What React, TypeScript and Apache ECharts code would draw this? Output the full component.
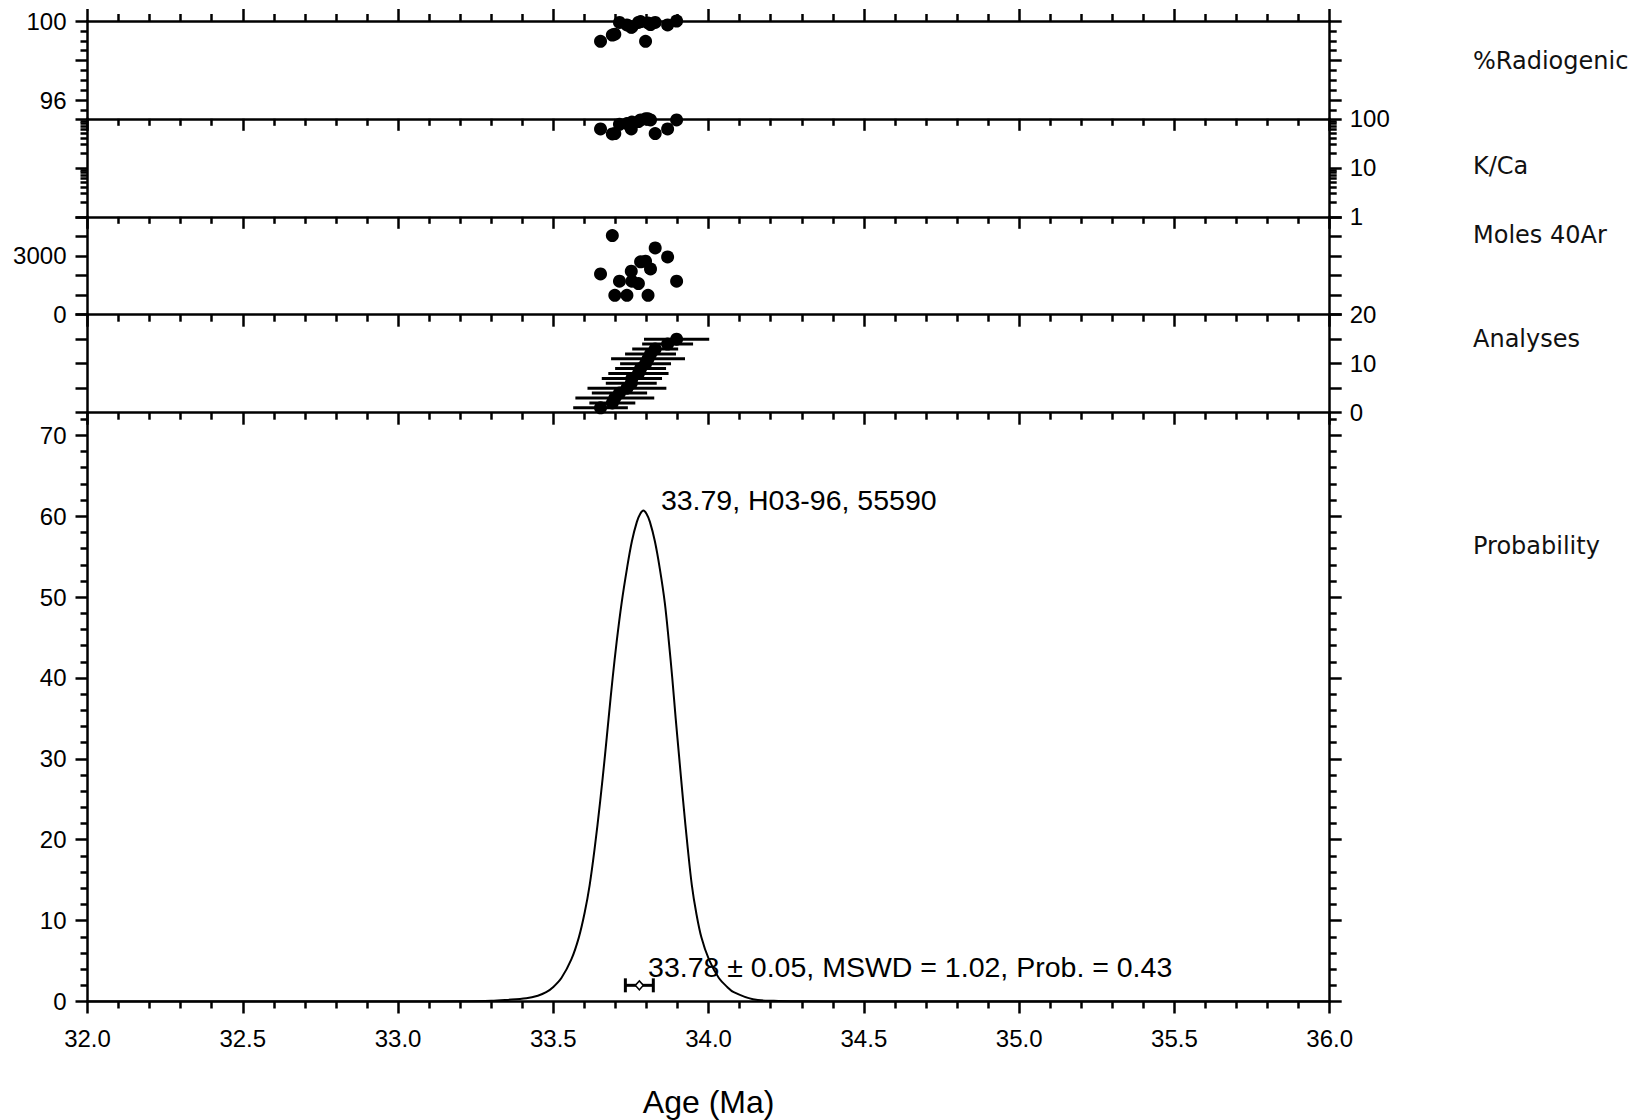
import React, { useEffect, useRef } from "react";
import * as echarts from "echarts";

// ---------- data ----------
const analysisNo = [1, 2, 3, 4, 5, 6, 7, 8, 9, 10, 11, 12, 13, 14, 15];
const ages = [33.652, 33.69, 33.698, 33.713, 33.737, 33.751, 33.753, 33.774, 33.781, 33.797, 33.805, 33.813, 33.828, 33.868, 33.897];
const ageErrors = [0.088, 0.074, 0.127, 0.089, 0.127, 0.082, 0.097, 0.097, 0.082, 0.082, 0.119, 0.082, 0.074, 0.082, 0.105];
const radiogenic = [98.97, 99.29, 99.33, 99.93, 99.8, 99.68, 99.7, 99.93, 99.97, 98.97, 99.9, 99.82, 99.93, 99.8, 100.0];
const kca = [62, 49, 50, 77, 80, 62, 86, 88, 95, 100, 100, 95, 50, 62, 95];
const moles = [2080, 4040, 990, 1710, 990, 2220, 1710, 1590, 2700, 2730, 990, 2340, 3410, 2950, 1710];

const curveAge = [32.0, 33.0, 33.2, 33.3, 33.348, 33.413, 33.45, 33.477, 33.5, 33.526, 33.558, 33.582, 33.601, 33.617, 33.633, 33.651, 33.666, 33.678, 33.691, 33.704, 33.72, 33.737, 33.753, 33.769, 33.78, 33.79, 33.8, 33.811, 33.827, 33.843, 33.859, 33.872, 33.883, 33.894, 33.905, 33.918, 33.933, 33.946, 33.96, 33.977, 34.001, 34.033, 34.06, 34.081, 34.143, 34.21, 34.3, 34.5, 36.0];
const curveProb = [0, 0, 0.02, 0.08, 0.19, 0.4, 0.72, 1.15, 1.8, 2.9, 5.2, 7.9, 11.0, 14.4, 18.9, 24.8, 30.3, 35.0, 40.0, 44.5, 49.3, 53.5, 56.9, 59.3, 60.3, 60.7, 60.3, 59.3, 56.9, 53.5, 49.3, 44.5, 40.0, 35.0, 30.3, 24.8, 18.9, 14.4, 11.0, 7.9, 5.2, 2.9, 1.8, 1.15, 0.27, 0.08, 0.02, 0, 0];

const peakAge = 33.79;
const peakProb = 60.7;
const peakLabel = "33.79, H03-96, 55590";
const meanAge = 33.777;
const meanErr = 0.045;
const meanLevel = 2;
const meanLabel = "33.78 ± 0.05, MSWD = 1.02, Prob. = 0.43";

const panelTitles = ["%Radiogenic", "K/Ca", "Moles 40Ar", "Analyses", "Probability"];

// tick values
const radMajor = [96, 98, 100];
const radLabels = [96, 100];
const radMinor = [95.5, 96.5, 97, 97.5, 98.5, 99, 99.5];
const kcaMajorLog = [0, 1, 2]; // log10 of 1, 10, 100
const kcaMinorValues = [2, 3, 4, 5, 6, 7, 8, 9, 20, 30, 40, 50, 60, 70, 80, 90];
const molesTicks = [0, 1000, 2000, 3000, 4000, 5000];
const molesLabels = [0, 3000];
const anaTicks = [0, 5, 10, 15, 20];
const anaLabels = [0, 10, 20];
const probMajor = [0, 10, 20, 30, 40, 50, 60, 70];
const probMinor = [2, 4, 6, 8, 12, 14, 16, 18, 22, 24, 26, 28, 32, 34, 36, 38, 42, 44, 46, 48, 52, 54, 56, 58, 62, 64, 66, 68, 72];

// ---------- styling / layout ----------
const BLACK = "#000";
const LW = 2.5;
const FONT = "'Liberation Sans', Arial, Helvetica, sans-serif";
const GL = 87.5;
const GW = 1242.2;
const panelTop = [21, 118.8, 216.8, 314.7, 412.7];
const panelHeight = [97.8, 98, 97.9, 98, 588.8];
const titleY = [63, 168, 237, 341, 548];

const labelStyle = { fontSize: 24, fontFamily: FONT, color: BLACK };

function yTicks(o: {
  grid: number;
  pos: "left" | "right";
  min: number;
  max: number;
  ticks: number[];
  labels?: number[];
  fmt?: (v: number) => string;
  len: number;
  line: boolean;
}) {
  return {
    type: "value",
    gridIndex: o.grid,
    position: o.pos,
    min: o.min,
    max: o.max,
    axisLine: { show: o.line, onZero: false, lineStyle: { color: BLACK, width: LW } },
    axisTick: { show: true, inside: false, length: o.len, customValues: o.ticks, lineStyle: { color: BLACK, width: LW } },
    axisLabel: {
      show: !!o.labels,
      customValues: o.labels || [],
      formatter: o.fmt || ((v: number) => String(v)),
      margin: o.pos === "left" ? 21 : 20,
      ...labelStyle,
    },
    splitLine: { show: false },
    minorTick: { show: false },
  };
}

function xAxisCfg(grid: number, position: "top" | "bottom", labels: boolean) {
  const cfg: any = {
    type: "value",
    gridIndex: grid,
    position,
    min: 32,
    max: 36,
    interval: 0.5,
    axisLine: { show: true, onZero: false, lineStyle: { color: BLACK, width: LW } },
    axisTick: { show: true, inside: false, length: 12, lineStyle: { color: BLACK, width: LW } },
    minorTick: { show: true, splitNumber: 5, length: 7, lineStyle: { color: BLACK, width: LW } },
    axisLabel: { show: labels, formatter: (v: number) => v.toFixed(1), margin: 25, ...labelStyle },
    splitLine: { show: false },
    minorSplitLine: { show: false },
  };
  if (labels) {
    cfg.name = "Age (Ma)";
    cfg.nameLocation = "middle";
    cfg.nameGap = 84;
    cfg.nameTextStyle = { fontSize: 32, fontFamily: FONT, color: BLACK };
  }
  return cfg;
}

const log10 = (v: number) => Math.log(v) / Math.LN10;
const kcaMinorLog = kcaMinorValues.map(log10);
const kcaFmt = (v: number) => String(Math.round(Math.pow(10, v)));

function buildOption() {
  const grid = panelTop.map((t, i) => ({
    left: GL,
    width: GW,
    top: t,
    height: panelHeight[i],
    containLabel: false,
    outerBoundsMode: "none",
  }));

  const xAxis = [
    xAxisCfg(0, "bottom", false),
    xAxisCfg(1, "bottom", false),
    xAxisCfg(2, "bottom", false),
    xAxisCfg(3, "bottom", false),
    xAxisCfg(4, "bottom", true),
    xAxisCfg(0, "top", false),
  ];

  const yAxis: any[] = [
    // 0..4: data axes
    yTicks({ grid: 0, pos: "left", min: 95.05, max: 100, ticks: radMajor, labels: radLabels, len: 12, line: true }),
    { type: "log", gridIndex: 1, min: 1, max: 100, logBase: 10, show: false, splitLine: { show: false } },
    yTicks({ grid: 2, pos: "left", min: 0, max: 5000, ticks: molesTicks, labels: molesLabels, len: 12, line: true }),
    yTicks({ grid: 3, pos: "left", min: 0, max: 20, ticks: anaTicks, len: 12, line: true }),
    yTicks({ grid: 4, pos: "left", min: 0, max: 72.8, ticks: probMajor, labels: probMajor, len: 12, line: true }),
    // tick-only axes
    yTicks({ grid: 0, pos: "left", min: 95.05, max: 100, ticks: radMinor, len: 7, line: false }),
    yTicks({ grid: 0, pos: "right", min: 95.05, max: 100, ticks: radMajor, len: 12, line: true }),
    yTicks({ grid: 0, pos: "right", min: 95.05, max: 100, ticks: radMinor, len: 7, line: false }),
    yTicks({ grid: 1, pos: "left", min: 0, max: 2, ticks: kcaMajorLog, len: 12, line: true }),
    yTicks({ grid: 1, pos: "left", min: 0, max: 2, ticks: kcaMinorLog, len: 7, line: false }),
    yTicks({ grid: 1, pos: "right", min: 0, max: 2, ticks: kcaMajorLog, labels: kcaMajorLog, fmt: kcaFmt, len: 12, line: true }),
    yTicks({ grid: 1, pos: "right", min: 0, max: 2, ticks: kcaMinorLog, len: 7, line: false }),
    yTicks({ grid: 2, pos: "right", min: 0, max: 5000, ticks: molesTicks, len: 12, line: true }),
    yTicks({ grid: 3, pos: "right", min: 0, max: 20, ticks: anaTicks, labels: anaLabels, len: 12, line: true }),
    yTicks({ grid: 4, pos: "left", min: 0, max: 72.8, ticks: probMinor, len: 7, line: false }),
    yTicks({ grid: 4, pos: "right", min: 0, max: 72.8, ticks: probMajor, len: 12, line: true }),
    yTicks({ grid: 4, pos: "right", min: 0, max: 72.8, ticks: probMinor, len: 7, line: false }),
  ];

  const dot = {
    symbol: "circle",
    symbolSize: 13,
    itemStyle: { color: BLACK, opacity: 1 },
    clip: false,
    silent: true,
  };

  const series: any[] = [
    { type: "scatter", xAxisIndex: 0, yAxisIndex: 0, data: ages.map((a, i) => [a, radiogenic[i]]), ...dot },
    { type: "scatter", xAxisIndex: 1, yAxisIndex: 1, data: ages.map((a, i) => [a, kca[i]]), ...dot },
    { type: "scatter", xAxisIndex: 2, yAxisIndex: 2, data: ages.map((a, i) => [a, moles[i]]), ...dot },
    {
      type: "custom",
      xAxisIndex: 3,
      yAxisIndex: 3,
      clip: false,
      silent: true,
      encode: { x: 0, y: 1 },
      data: ages.map((a, i) => [a, analysisNo[i], ageErrors[i]]),
      renderItem: (_p: any, api: any) => {
        const c = api.value(0);
        const y = api.value(1);
        const e = api.value(2);
        const p1 = api.coord([c - e, y]);
        const p2 = api.coord([c + e, y]);
        return {
          type: "line",
          shape: { x1: p1[0], y1: p1[1], x2: p2[0], y2: p2[1] },
          style: { stroke: BLACK, lineWidth: 3 },
        };
      },
    },
    { type: "scatter", xAxisIndex: 3, yAxisIndex: 3, data: ages.map((a, i) => [a, analysisNo[i]]), ...dot },
    {
      type: "line",
      xAxisIndex: 4,
      yAxisIndex: 4,
      data: curveAge.map((a, i) => [a, curveProb[i]]),
      showSymbol: false,
      symbol: "none",
      smooth: 0.35,
      lineStyle: { color: BLACK, width: 2, opacity: 1 },
      silent: true,
    },
    {
      type: "custom",
      xAxisIndex: 4,
      yAxisIndex: 4,
      clip: false,
      silent: true,
      encode: { x: 0, y: 1 },
      data: [[meanAge, meanLevel, meanErr]],
      renderItem: (_p: any, api: any) => {
        const c = api.value(0);
        const y = api.value(1);
        const e = api.value(2);
        const a = api.coord([c - e, y]);
        const b = api.coord([c + e, y]);
        const st = { stroke: BLACK, lineWidth: 3 };
        return {
          type: "group",
          children: [
            { type: "line", shape: { x1: a[0], y1: a[1], x2: b[0], y2: b[1] }, style: st },
            { type: "line", shape: { x1: a[0], y1: a[1] - 7, x2: a[0], y2: a[1] + 7 }, style: st },
            { type: "line", shape: { x1: b[0], y1: b[1] - 7, x2: b[0], y2: b[1] + 7 }, style: st },
          ],
        };
      },
    },
    {
      type: "scatter",
      xAxisIndex: 4,
      yAxisIndex: 4,
      data: [[meanAge, meanLevel]],
      symbol: "diamond",
      symbolSize: [8, 9],
      itemStyle: { color: "#fff", borderColor: BLACK, borderWidth: 1.5, opacity: 1 },
      clip: false,
      silent: true,
      label: {
        show: true,
        position: "right",
        distance: 4,
        offset: [0, -18],
        formatter: () => meanLabel,
        fontSize: 28.5,
        fontFamily: FONT,
        color: BLACK,
        opacity: 1,
      },
    },
    {
      type: "scatter",
      xAxisIndex: 4,
      yAxisIndex: 4,
      data: [[peakAge, peakProb]],
      symbolSize: 1,
      itemStyle: { color: "transparent", opacity: 1 },
      clip: false,
      silent: true,
      label: {
        show: true,
        position: "right",
        distance: 17,
        offset: [0, -11],
        formatter: () => peakLabel,
        fontSize: 28.5,
        fontFamily: FONT,
        color: BLACK,
        opacity: 1,
      },
    },
  ];

  const graphic = panelTitles.map((t, i) => ({
    type: "text",
    left: 1473,
    top: titleY[i] - 14,
    style: {
      text: t,
      fontSize: 24,
      fontFamily: "'DejaVu Sans', Verdana, sans-serif",
      fill: "#111",
    },
    silent: true,
  }));

  return {
    animation: false,
    backgroundColor: "#fff",
    grid,
    xAxis,
    yAxis,
    series,
    graphic,
  };
}

export default function App() {
  const ref = useRef<HTMLDivElement>(null);
  useEffect(() => {
    if (!ref.current) return;
    const chart = echarts.init(ref.current, null, { renderer: "svg" });
    chart.setOption(buildOption() as any);
    return () => chart.dispose();
  }, []);
  return (
    <div
      ref={ref}
      style={{ position: "absolute", left: 0, top: 0, width: 1634, height: 1120, background: "#fff" }}
    />
  );
}
